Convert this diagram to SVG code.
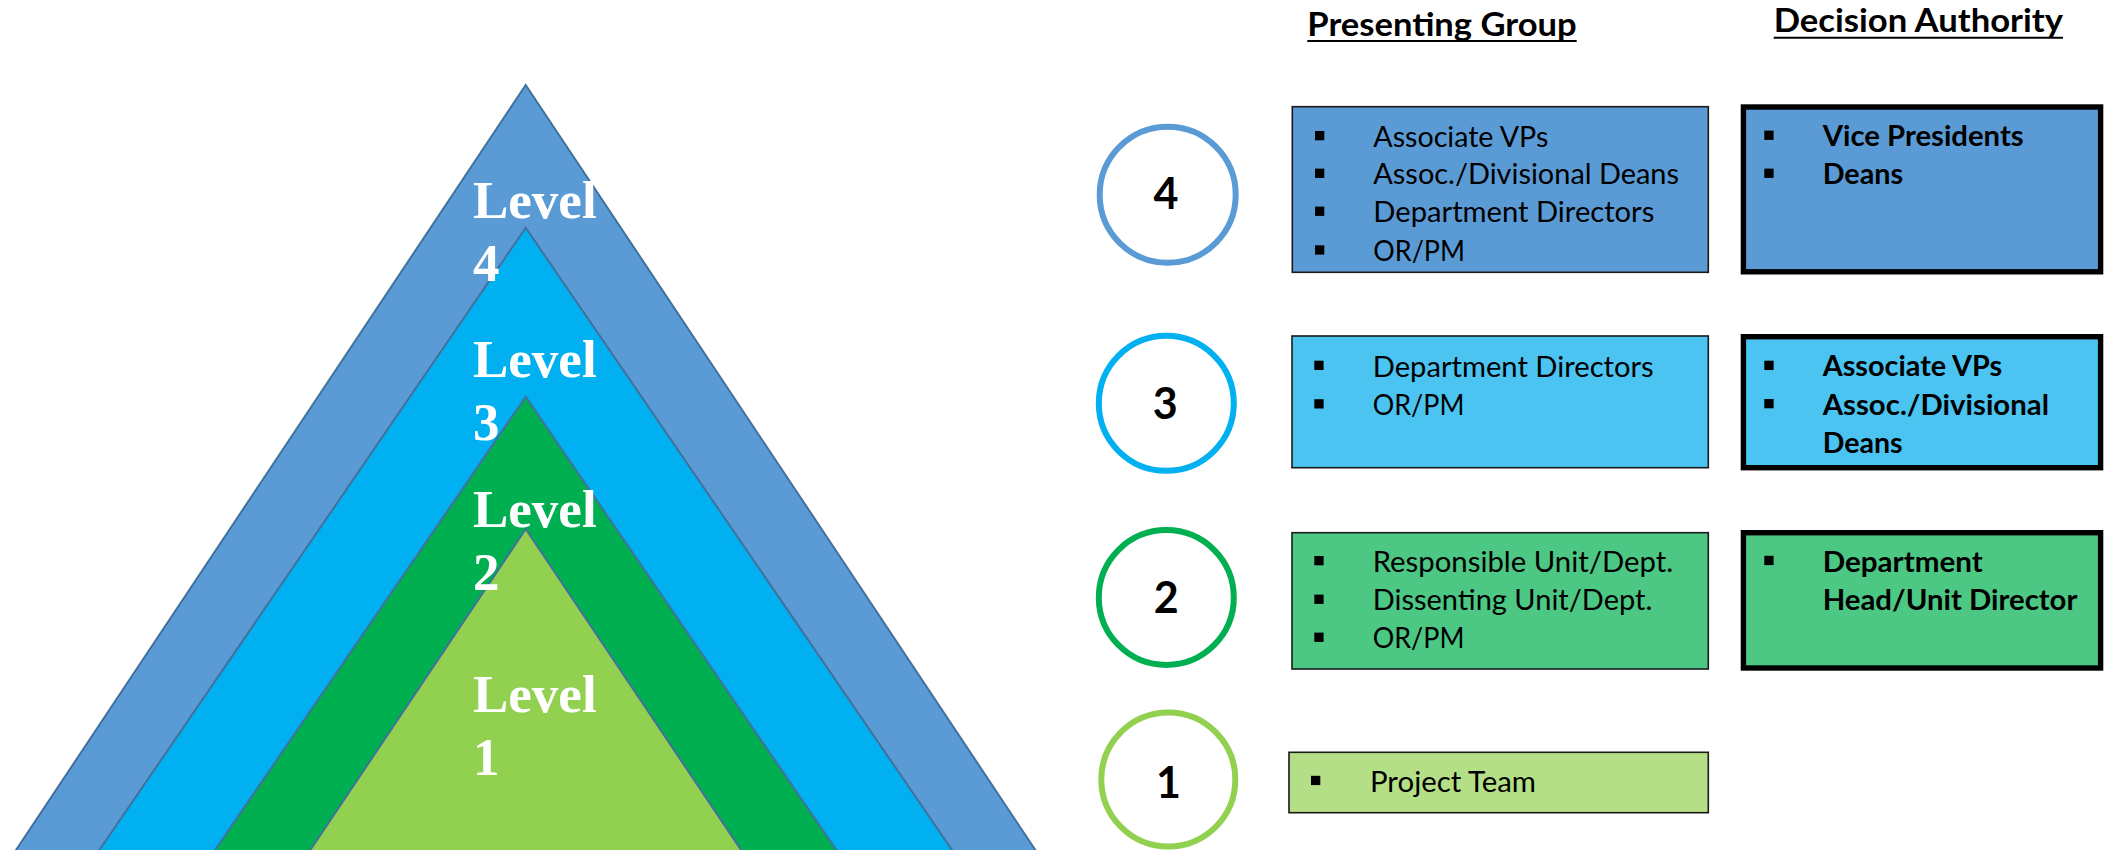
<svg xmlns="http://www.w3.org/2000/svg" width="2113" height="850" viewBox="0 0 2113 850">
<style>
.tri{stroke:#41719C;stroke-width:2;stroke-linejoin:miter}
.lvl{font-family:"Liberation Serif","Times New Roman",serif;font-weight:bold;font-size:53px;fill:#FFFFFF}
.circ{fill:#FFFFFF;stroke-width:6}
.num{font-family:Lato,"Liberation Sans",sans-serif;font-weight:bold;font-size:43px;fill:#000000;text-anchor:middle}
.pbox{stroke:#1A1A1A;stroke-width:1.6}
.dbox{stroke:#000000;stroke-width:5.4}
.t{font-family:Lato,"Liberation Sans",sans-serif;font-size:28px;fill:#000000}
.tb{font-family:Lato,"Liberation Sans",sans-serif;font-size:28px;font-weight:bold;fill:#000000}
.hdr{font-family:Lato,"Liberation Sans",sans-serif;font-size:32px;font-weight:bold;fill:#000000}
.ul{stroke:#000000;stroke-width:2}
.bul{fill:#000000}
</style>
<rect x="0" y="0" width="2113" height="850" fill="#FFFFFF"/>

<g id="pyramid">
  <g id="level4-tri">
    <polygon class="tri" fill="#5B9BD5" points="525.7,85 14.7,852 1036.7,852"/>
  </g>
  <g id="level3-tri">
    <polygon class="tri" fill="#00B0F0" points="525.7,227.7 98,852 953.4,852"/>
  </g>
  <g id="level2-tri">
    <polygon class="tri" fill="#00AF50" points="525.7,396.7 213.7,852 837.7,852"/>
  </g>
  <g id="level1-tri">
    <polygon class="tri" fill="#92D050" points="525.7,529 309,852 742.4,852"/>
  </g>
  <g id="level-labels">
    <text class="lvl" x="473" y="217.5">Level</text>
    <text class="lvl" x="473" y="280.5">4</text>
    <text class="lvl" x="473" y="377">Level</text>
    <text class="lvl" x="473" y="440">3</text>
    <text class="lvl" x="473" y="526.5">Level</text>
    <text class="lvl" x="473" y="589.5">2</text>
    <text class="lvl" x="473" y="712">Level</text>
    <text class="lvl" x="473" y="775">1</text>
  </g>
</g>

<g id="connectors"/>

<g id="headers">
  <text class="hdr" x="1307.3" y="35.5" textLength="269.4" lengthAdjust="spacingAndGlyphs">Presenting Group</text>
  <line class="ul" x1="1307.3" y1="41" x2="1576.7" y2="41"/>
  <text class="hdr" x="1773.7" y="31.7" textLength="289.3" lengthAdjust="spacingAndGlyphs">Decision Authority</text>
  <line class="ul" x1="1773.7" y1="37.7" x2="2063" y2="37.7"/>
</g>

<g id="circle4">
  <circle class="circ" cx="1167.7" cy="194.8" r="68" stroke="#5B9BD5"/>
  <text class="num" x="1166" y="209.3">4</text>
</g>
<g id="circle3">
  <circle class="circ" cx="1166.3" cy="403.3" r="67.5" stroke="#00B0F0"/>
  <text class="num" x="1165.3" y="419.3">3</text>
</g>
<g id="circle2">
  <circle class="circ" cx="1166.3" cy="597.5" r="67.5" stroke="#00B050"/>
  <text class="num" x="1166.3" y="613.3">2</text>
</g>
<g id="circle1">
  <circle class="circ" cx="1168.3" cy="779.5" r="67" stroke="#92D050" stroke-width="7"/>
  <text class="num" x="1168.5" y="797.7">1</text>
</g>

<g id="present4">
  <rect class="pbox" fill="#5B9BD5" x="1292.3" y="106.7" width="416" height="165.6"/>
  <rect class="bul" x="1315" y="131" width="9.3" height="9.3"/>
  <text class="t" x="1373.3" y="146.7" textLength="175" lengthAdjust="spacingAndGlyphs">Associate VPs</text>
  <rect class="bul" x="1315" y="168.6" width="9.3" height="9.3"/>
  <text class="t" x="1373.3" y="184.3" textLength="305.7" lengthAdjust="spacingAndGlyphs">Assoc./Divisional Deans</text>
  <rect class="bul" x="1315" y="206.6" width="9.3" height="9.3"/>
  <text class="t" x="1373.3" y="222.3" textLength="281" lengthAdjust="spacingAndGlyphs">Department Directors</text>
  <rect class="bul" x="1315" y="245.3" width="9.3" height="9.3"/>
  <text class="t" x="1373.3" y="261" textLength="91.7" lengthAdjust="spacingAndGlyphs">OR/PM</text>
</g>

<g id="decision4">
  <rect class="dbox" fill="#5B9BD5" x="1743.4" y="107" width="357.2" height="164.8"/>
  <rect class="bul" x="1764.3" y="130.6" width="9.3" height="9.3"/>
  <text class="tb" x="1822.7" y="146.3" textLength="201" lengthAdjust="spacingAndGlyphs">Vice Presidents</text>
  <rect class="bul" x="1764.3" y="168.6" width="9.3" height="9.3"/>
  <text class="tb" x="1822.7" y="184.3" textLength="80.5" lengthAdjust="spacingAndGlyphs">Deans</text>
</g>

<g id="present3">
  <rect class="pbox" fill="#4BC4F2" x="1292" y="336" width="416.3" height="131.7"/>
  <rect class="bul" x="1314.3" y="360.7" width="9.3" height="9.3"/>
  <text class="t" x="1372.7" y="376.7" textLength="281" lengthAdjust="spacingAndGlyphs">Department Directors</text>
  <rect class="bul" x="1314.3" y="399.2" width="9.3" height="9.3"/>
  <text class="t" x="1372.7" y="415" textLength="91.7" lengthAdjust="spacingAndGlyphs">OR/PM</text>
</g>

<g id="decision3">
  <rect class="dbox" fill="#4BC4F2" x="1743.4" y="336.7" width="357.2" height="131"/>
  <rect class="bul" x="1764.3" y="360.7" width="9.3" height="9.3"/>
  <text class="tb" x="1822.7" y="376.2" textLength="179.6" lengthAdjust="spacingAndGlyphs">Associate VPs</text>
  <rect class="bul" x="1764.3" y="399" width="9.3" height="9.3"/>
  <text class="tb" x="1822.7" y="414.5" textLength="226.3" lengthAdjust="spacingAndGlyphs">Assoc./Divisional</text>
  <text class="tb" x="1822.7" y="452.5" textLength="80" lengthAdjust="spacingAndGlyphs">Deans</text>
</g>

<g id="present2">
  <rect class="pbox" fill="#4CC784" x="1292" y="532.7" width="416.3" height="136.3"/>
  <rect class="bul" x="1314.3" y="556" width="9.3" height="9.3"/>
  <text class="t" x="1372.7" y="571.7" textLength="300.6" lengthAdjust="spacingAndGlyphs">Responsible Unit/Dept.</text>
  <rect class="bul" x="1314.3" y="594.6" width="9.3" height="9.3"/>
  <text class="t" x="1372.7" y="610.3" textLength="279.6" lengthAdjust="spacingAndGlyphs">Dissenting Unit/Dept.</text>
  <rect class="bul" x="1314.3" y="632.6" width="9.3" height="9.3"/>
  <text class="t" x="1372.7" y="648.3" textLength="91.7" lengthAdjust="spacingAndGlyphs">OR/PM</text>
</g>

<g id="decision2">
  <rect class="dbox" fill="#4CC784" x="1743.4" y="532.7" width="357.2" height="135.3"/>
  <rect class="bul" x="1764.3" y="555.8" width="9.3" height="9.3"/>
  <text class="tb" x="1822.7" y="571.7" textLength="160" lengthAdjust="spacingAndGlyphs">Department</text>
  <text class="tb" x="1822.7" y="610" textLength="254.7" lengthAdjust="spacingAndGlyphs">Head/Unit Director</text>
</g>

<g id="present1">
  <rect class="pbox" fill="#B4DF86" x="1289" y="752.3" width="419.3" height="60.4"/>
  <rect class="bul" x="1311" y="775.8" width="9.3" height="9.3"/>
  <text class="t" x="1370" y="791.7" textLength="166" lengthAdjust="spacingAndGlyphs">Project Team</text>
</g>
</svg>
